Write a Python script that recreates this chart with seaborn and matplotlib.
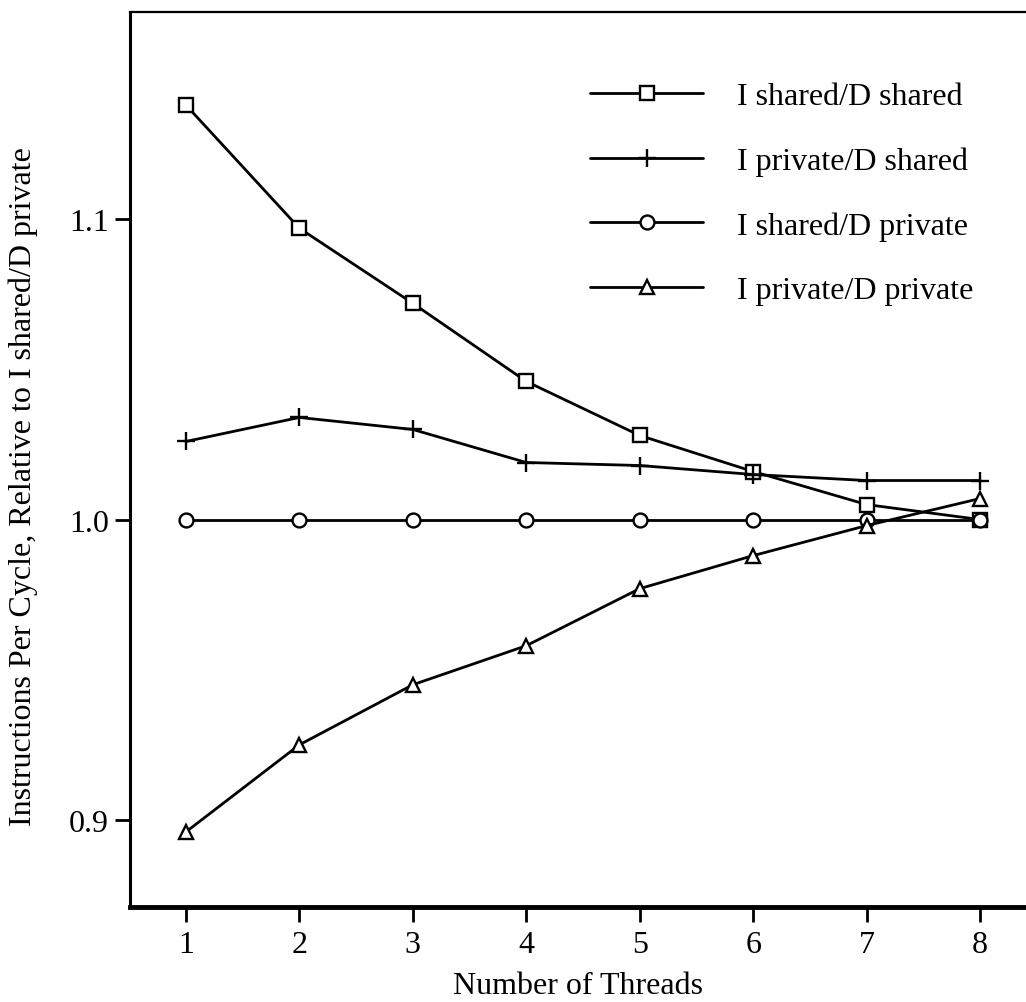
import matplotlib
matplotlib.use("Agg")
import matplotlib.pyplot as plt
import seaborn as sns
import pandas as pd

threads = [1, 2, 3, 4, 5, 6, 7, 8]
series_names = ["I shared/D shared", "I private/D shared",
                "I shared/D private", "I private/D private"]
ishared_dshared = [1.138, 1.097, 1.072, 1.046, 1.028, 1.016, 1.005, 1.000]
iprivate_dshared = [1.026, 1.034, 1.030, 1.019, 1.018, 1.015, 1.013, 1.013]
ishared_dprivate = [1.000, 1.000, 1.000, 1.000, 1.000, 1.000, 1.000, 1.000]
iprivate_dprivate = [0.896, 0.925, 0.945, 0.958, 0.977, 0.988, 0.998, 1.007]
yticks = [0.9, 1.0, 1.1]
ytick_labels = ["0.9", "1.0", "1.1"]

values = [ishared_dshared, iprivate_dshared, ishared_dprivate, iprivate_dprivate]
rows = []
for name, vals in zip(series_names, values):
    for t, v in zip(threads, vals):
        rows.append({"threads": t, "ipc": v, "config": name})
df = pd.DataFrame(rows)

sns.set_style("ticks")
plt.rcParams["font.family"] = ["Liberation Serif", "DejaVu Serif"]
plt.rcParams["text.color"] = "black"
plt.rcParams["axes.labelcolor"] = "black"

fig = plt.figure(figsize=(10.26, 10.03), dpi=100)
ax = fig.add_axes([130 / 1026, 1 - 908 / 1003, 1 - 130 / 1026, (908 - 13) / 1003])

marker_for = {series_names[0]: ("s", 10), series_names[1]: ("+", 13),
              series_names[2]: ("o", 10), series_names[3]: ("^", 10)}
for name in series_names:
    m, ms = marker_for[name]
    sns.lineplot(data=df[df["config"] == name], x="threads", y="ipc",
                 marker=m, markersize=ms, color="black", linewidth=2.0,
                 markerfacecolor="white", markeredgecolor="black",
                 markeredgewidth=1.7, legend=False, ax=ax)

ax.set_xlim(0.507, 8.405)
ax.set_ylim(0.871, 1.169)
ax.set_xticks(threads)
ax.set_xticklabels([str(t) for t in threads])
ax.set_yticks(yticks)
ax.set_yticklabels(ytick_labels)

ax.spines["right"].set_visible(False)
ax.spines["left"].set_linewidth(2.2)
ax.spines["bottom"].set_linewidth(3.5)
ax.spines["top"].set_linewidth(1.6)
for s in ax.spines.values():
    s.set_color("black")

ax.tick_params(axis="both", direction="out", length=11, width=2.0,
               colors="black", labelsize=23, pad=4)
ax.tick_params(axis="x", pad=5.5)

ax.set_xlabel("Number of Threads", fontsize=23, labelpad=9, color="black")
ax.set_ylabel("Instructions Per Cycle, Relative to I shared/D private",
              fontsize=23, color="black")
ax.yaxis.set_label_coords(-0.103, 0.471)

leg = ax.legend(handles=list(ax.lines), labels=series_names,
                loc="upper left", bbox_to_anchor=(590 / 1026, 1 - 83 / 1003),
                bbox_transform=fig.transFigure, frameon=False, fontsize=23,
                handlelength=3.54, handletextpad=1.05, labelspacing=1.1,
                borderpad=0, borderaxespad=0, numpoints=1)
for t in leg.get_texts():
    t.set_color("black")

fig.savefig("out.png", dpi=100)
